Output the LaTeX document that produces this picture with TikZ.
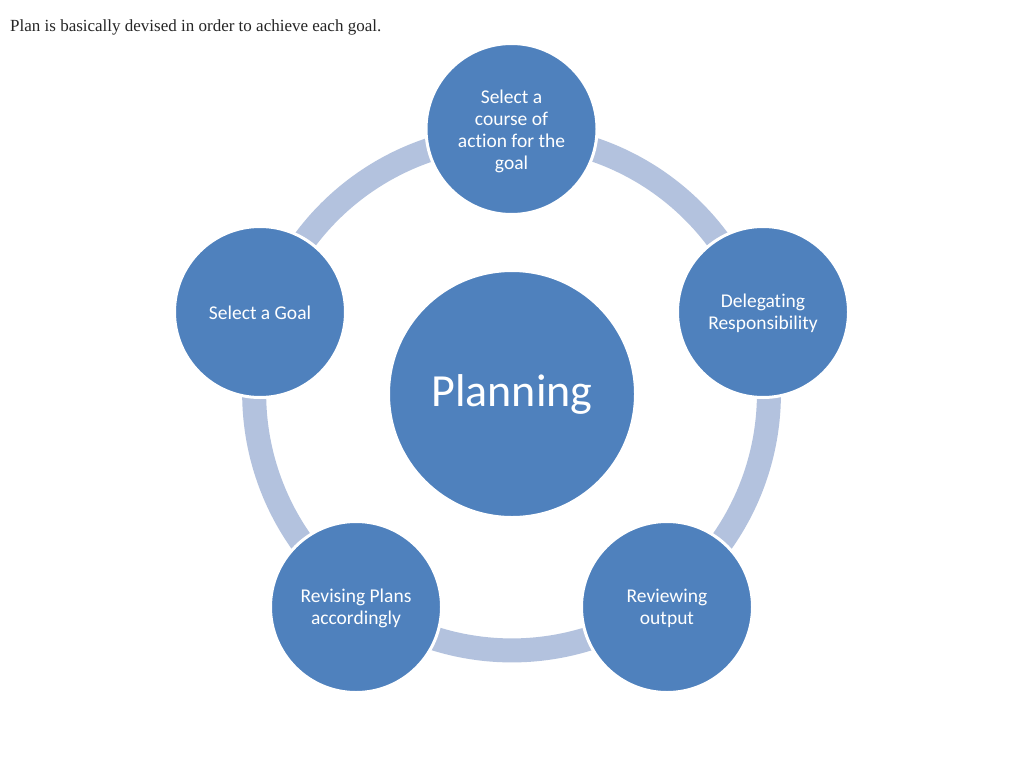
\documentclass[tikz,border=0pt]{standalone}
\usepackage{fontspec}
\setmainfont{Liberation Serif}
\newfontfamily\calib[Ligatures=NoCommon]{Carlito}
\usetikzlibrary{backgrounds,calc}
\definecolor{nodeblue}{RGB}{79,129,189}
\definecolor{ringblue}{RGB}{179,194,222}
\newcommand{\lowerby}[2]{\raisebox{-#1}[\height][\depth]{#2}}
\tikzset{
  smallcirc/.style={circle, fill=nodeblue, draw=white, line width=3pt, minimum size=171pt, inner sep=0pt,
    text=white, align=center, font=\calib\fontsize{19.5}{22}\selectfont},
  bigcirc/.style={circle, fill=nodeblue, draw=white, line width=3pt, minimum size=247pt, inner sep=0pt,
    text=white, font=\calib\fontsize{46}{50}\selectfont},
  ringarc/.style={draw=ringblue, line width=24pt},
}
\begin{document}
\begin{tikzpicture}[x=1pt,y=-1pt]
\useasboundingbox (0,0) rectangle (1024,768);
\node[anchor=base west, font=\fontsize{17}{20}\selectfont, text=black!85, inner sep=0pt] (caption) at (10,32) {Plan is basically devised in order to achieve each goal.};
\node[bigcirc] (plan) at (512,394) {Planning};
\coordinate (ctr) at (511.5,393);
\node[smallcirc] (top) at (511.5,129) {\lowerby{3pt}{\begin{tabular}{@{}c@{}}Select a\\course of\\action for the\\goal\end{tabular}}};
\node[smallcirc] (right) at (763,312) {\lowerby{2pt}{\begin{tabular}{@{}c@{}}Delegating\\Responsibility\end{tabular}}};
\node[smallcirc] (br) at (667,607) {\lowerby{2pt}{\begin{tabular}{@{}c@{}}Reviewing\\output\end{tabular}}};
\node[smallcirc] (bl) at (356,607) {\lowerby{2pt}{\begin{tabular}{@{}c@{}}Revising Plans\\accordingly\end{tabular}}};
\node[smallcirc] (left) at (260,312) {\lowerby{1pt}{Select a Goal}};
\begin{scope}[on background layer]
\fill[white] (0,0) rectangle (1024,768);
\draw[ringarc] ($(top.center)!7pt!(ctr)$) arc[start angle=-90, end angle=-18, radius=257];
\draw[ringarc] ($(right.center)!7pt!(ctr)$) arc[start angle=-18, end angle=54, radius=257];
\draw[ringarc] ($(br.center)!7pt!(ctr)$) arc[start angle=54, end angle=126, radius=257];
\draw[ringarc] ($(bl.center)!7pt!(ctr)$) arc[start angle=126, end angle=198, radius=257];
\draw[ringarc] ($(left.center)!7pt!(ctr)$) arc[start angle=198, end angle=270, radius=257];
\end{scope}
\end{tikzpicture}
\end{document}
